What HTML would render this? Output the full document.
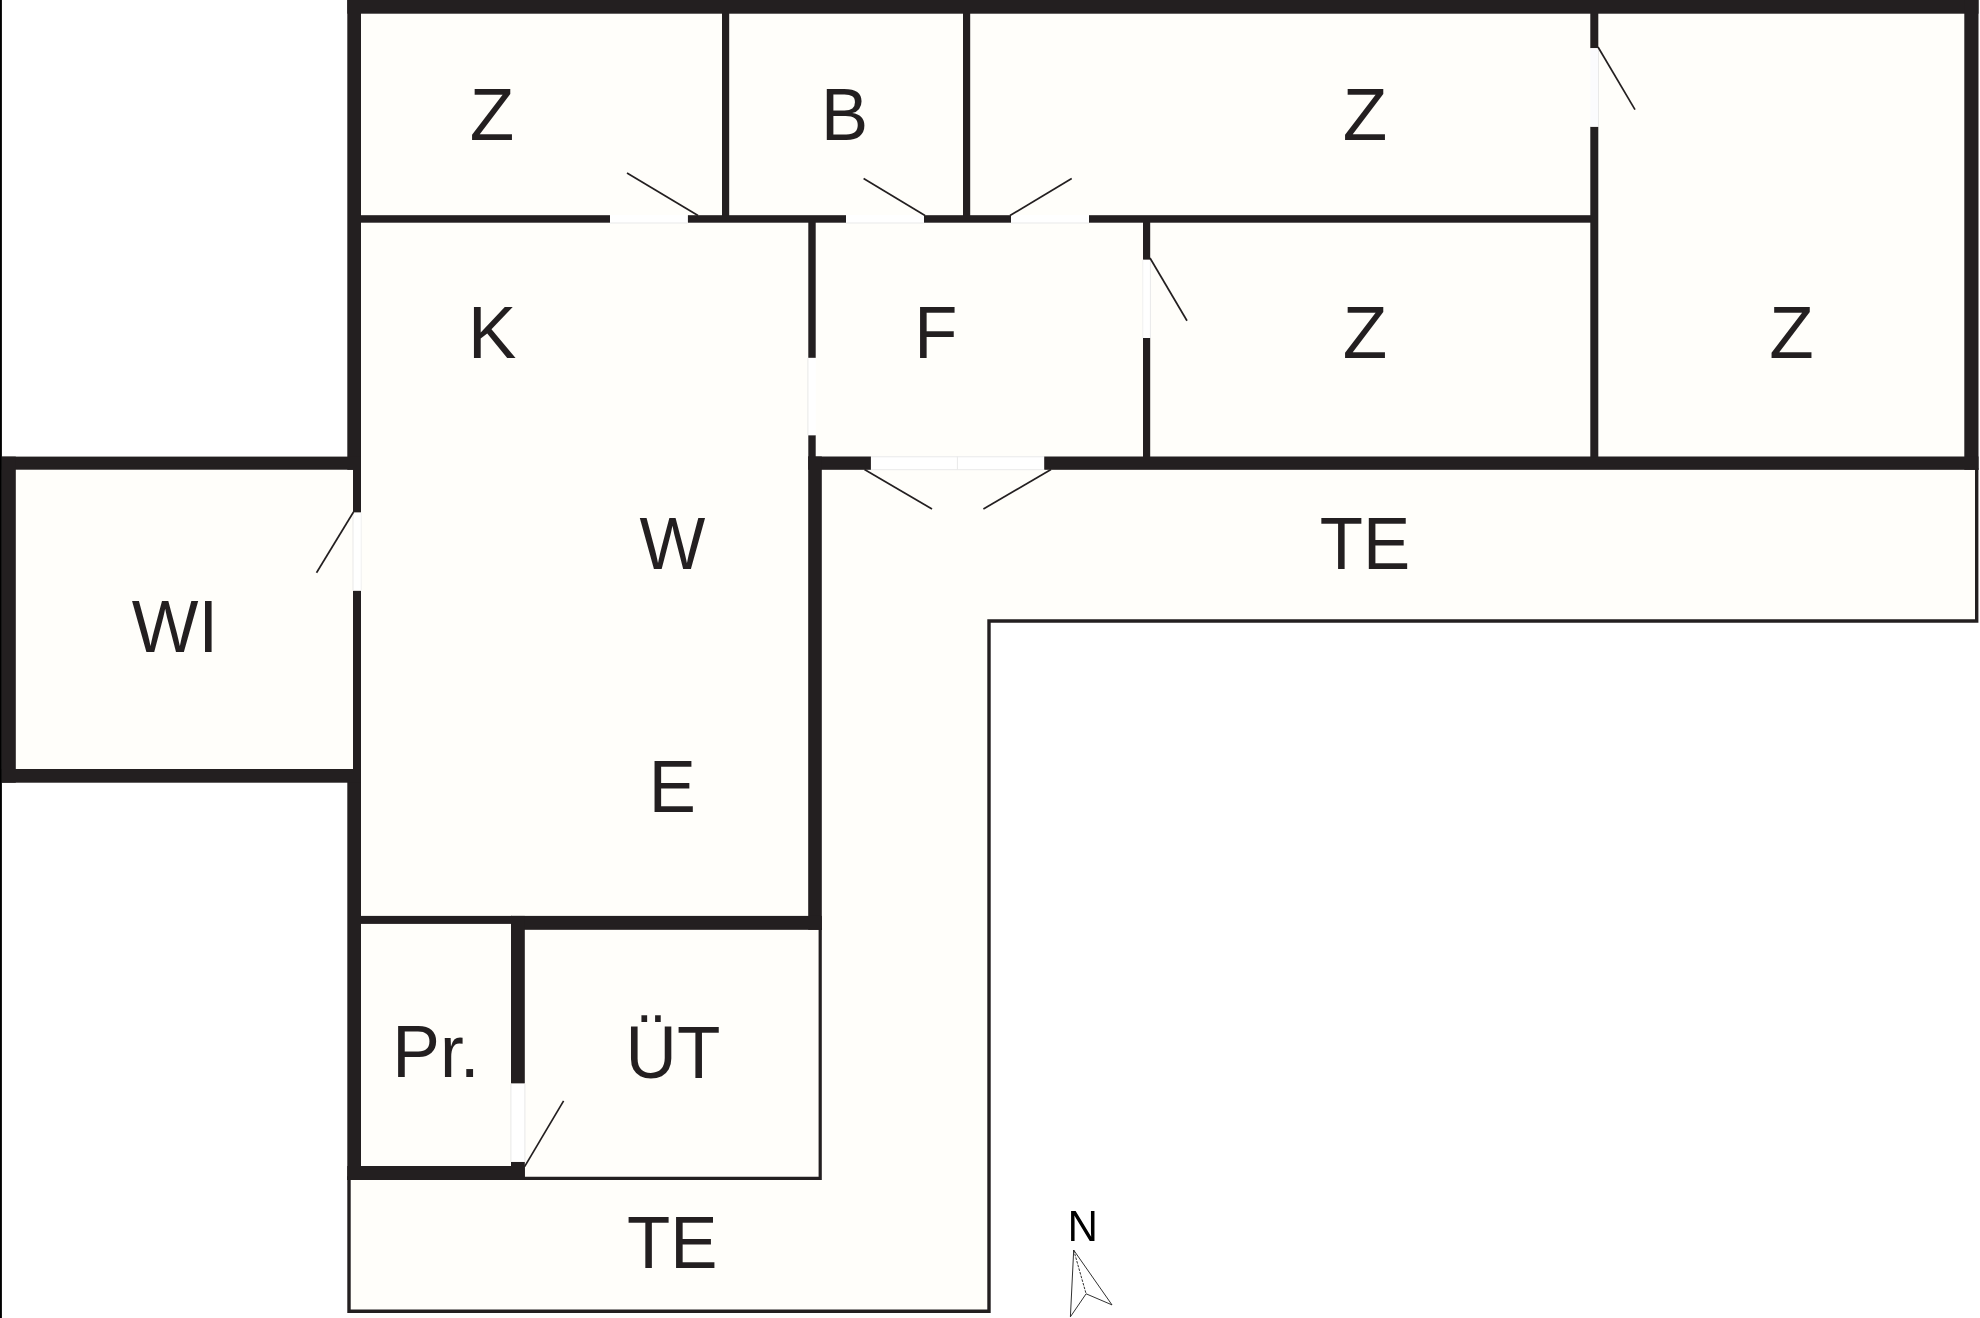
<!DOCTYPE html>
<html lang="de">
<head>
<meta charset="utf-8">
<title>Grundriss</title>
<style>
  html, body { margin: 0; padding: 0; background: #ffffff; }
  body { width: 1980px; height: 1318px; overflow: hidden; position: relative; }
  svg { position: absolute; left: 0; top: 0; display: block; }
  .fill { fill: #fffefa; }
  .wall { fill: #231f20; }
  .gap  { fill: #ffffff; }
  .gapl { stroke: #e9e9e9; stroke-width: 1; fill: none; }
  .thin { stroke: #231f20; stroke-width: 3.4; fill: none; stroke-linecap: square; stroke-linejoin: miter; }
  .leaf { stroke: #231f20; stroke-width: 1.7; fill: none; stroke-linecap: butt; }
  .lbl  { font-family: "Liberation Sans", sans-serif; font-size: 74px; fill: #231f20; }
  .north { font-family: "Liberation Sans", sans-serif; font-size: 43.6px; fill: #000000; opacity: 0.995; }
  .cmp  { stroke: #1a1a1a; stroke-width: 0.9; fill: none; stroke-linejoin: round; }
</style>
</head>
<body>
<svg width="1980" height="1318" viewBox="0 0 1980 1318">
  <!-- page background -->
  <rect x="0" y="0" width="1980" height="1318" fill="#ffffff"/>

  <!-- ===== room / terrace fills ===== -->
  <g class="fill">
    <!-- main upper block -->
    <rect x="355" y="8" width="1616" height="455"/>
    <!-- K / W / E -->
    <rect x="355" y="215" width="460" height="708"/>
    <!-- WI -->
    <rect x="8" y="463" width="350" height="313"/>
    <!-- Pr. -->
    <rect x="355" y="920" width="162" height="252"/>
    <!-- ÜT -->
    <rect x="518" y="923" width="302" height="255"/>
    <!-- terrace (L + bottom strip) -->
    <polygon points="815,463 1976.7,463 1976.7,621 989,621 989,1311.3 349,1311.3 349,1172 815,1172"/>
  </g>

  <!-- ===== thin terrace / ÜT outlines ===== -->
  <g class="thin">
    <polyline points="1976.7,470 1976.7,621 989,621 989,1311.3 349,1311.3 349,1178"/>
    <polyline points="820.2,930 820.2,1178.4 524,1178.4" stroke-width="3.2"/>
  </g>

  <!-- ===== outer walls ===== -->
  <g class="wall">
    <!-- top -->
    <rect x="347.3" y="0" width="1631.2" height="13.7"/>
    <!-- right -->
    <rect x="1964.3" y="0" width="14.2" height="469.8"/>
    <!-- left upper -->
    <rect x="347.3" y="0" width="13.7" height="469.8"/>
    <!-- left lower -->
    <rect x="347.3" y="769" width="13.7" height="411"/>
    <!-- bottom of upper block (split by double door) -->
    <rect x="808.2" y="456.5" width="62.7" height="13.3"/>
    <rect x="1044" y="456.5" width="934.5" height="13.3"/>
    <!-- right wall of W/E -->
    <rect x="808.2" y="456.5" width="13.6" height="473.3"/>
    <!-- bottom wall of E (thick part) -->
    <rect x="511" y="915.9" width="310.8" height="13.9"/>
    <!-- Pr | ÜT -->
    <rect x="511" y="915.9" width="13.8" height="167.7"/>
    <rect x="511" y="1161.8" width="13.8" height="18.2"/>
    <!-- Pr bottom -->
    <rect x="347.3" y="1166" width="177.5" height="14"/>
    <!-- WI box -->
    <rect x="1.8" y="456.6" width="359.2" height="13.1"/>
    <rect x="1.8" y="456.6" width="14" height="326.1"/>
    <rect x="1.8" y="769" width="359.2" height="13.7"/>
  </g>

  <!-- ===== inner walls ===== -->
  <g class="wall">
    <!-- WI | W (thin) -->
    <rect x="353" y="469" width="8" height="43.6"/>
    <rect x="353" y="590.6" width="8" height="179"/>
    <!-- horizontal wall y=215..222.7 -->
    <rect x="360" y="215.2" width="250" height="7.5"/>
    <rect x="687.7" y="215.2" width="158.3" height="7.5"/>
    <rect x="924" y="215.2" width="87" height="7.5"/>
    <rect x="1089" y="215.2" width="502" height="7.5"/>
    <!-- Z | B -->
    <rect x="722" y="13" width="7.2" height="203"/>
    <!-- B | Z -->
    <rect x="963" y="13" width="7.2" height="203"/>
    <!-- K | F -->
    <rect x="808.3" y="222" width="7.4" height="135.9"/>
    <rect x="808.3" y="435.2" width="7.4" height="22"/>
    <!-- F | Z -->
    <rect x="1143" y="222" width="7.2" height="37.8"/>
    <rect x="1143" y="338" width="7.2" height="119"/>
    <!-- Z | Z (right) -->
    <rect x="1590.3" y="13" width="8" height="35.2"/>
    <rect x="1590.3" y="126.7" width="8" height="331"/>
    <!-- Pr top (thin) -->
    <rect x="360" y="915.9" width="152" height="8"/>
  </g>

  <!-- ===== door openings (white) ===== -->
  <g class="gap">
    <rect x="610" y="215" width="77.7" height="8"/>
    <rect x="846" y="215" width="78" height="8"/>
    <rect x="1011" y="215" width="78" height="8"/>
    <rect x="808.3" y="357.9" width="7.4" height="77.3"/>
    <rect x="1143" y="259.8" width="7.2" height="78.2"/>
    <rect x="1590.3" y="48.2" width="8" height="78.5" fill="#fbfbfd"/>
    <rect x="353" y="512.6" width="8" height="78"/>
    <rect x="511" y="1083.6" width="13.8" height="78.2"/>
    <rect x="871" y="456.5" width="173.2" height="13.4"/>
  </g>
  <g class="gapl">
    <line x1="610" y1="223" x2="687.7" y2="223"/>
    <line x1="846" y1="223" x2="924" y2="223"/>
    <line x1="1011" y1="223" x2="1089" y2="223"/>
    <line x1="807.9" y1="357.9" x2="807.9" y2="435.2"/>
    <line x1="1150.4" y1="259.8" x2="1150.4" y2="338"/>
    <line x1="353" y1="512.6" x2="353" y2="590.6"/>
    <line x1="510.9" y1="1083.6" x2="510.9" y2="1161.8"/>
    <line x1="524.9" y1="1083.6" x2="524.9" y2="1161.8"/>
    <line x1="871" y1="456.8" x2="1044.2" y2="456.8"/>
    <line x1="871" y1="469.7" x2="1044.2" y2="469.7"/>
    <line x1="957.4" y1="456.5" x2="957.4" y2="469.9"/>
    <line x1="1598.5" y1="48.2" x2="1598.5" y2="126.7"/>
    <line x1="1142.8" y1="259.8" x2="1142.8" y2="338" stroke="#f0f0f0"/>
    <line x1="361.2" y1="512.6" x2="361.2" y2="590.6" stroke="#f0f0f0"/>
  </g>

  <!-- ===== door leaves ===== -->
  <g class="leaf">
    <line x1="627" y1="173" x2="698" y2="215.5"/>
    <line x1="863.6" y1="178.5" x2="925" y2="215.5"/>
    <line x1="1071.7" y1="178.5" x2="1010" y2="215.5"/>
    <line x1="1598" y1="47" x2="1635" y2="109.6"/>
    <line x1="1150" y1="258" x2="1187" y2="320.7"/>
    <line x1="353.5" y1="512" x2="316.5" y2="572.7"/>
    <line x1="524.6" y1="1166.6" x2="563.6" y2="1100.9"/>
    <line x1="864.5" y1="469.5" x2="932" y2="509"/>
    <line x1="1051" y1="469.5" x2="983.4" y2="509"/>
  </g>

  <!-- ===== labels ===== -->
  <g class="lbl">
    <text transform="translate(469.7,140.2) scale(0.984,1)">Z</text>
    <text transform="translate(820.9,140.2) scale(0.955,1)">B</text>
    <text transform="translate(1342.7,140.2) scale(0.984,1)">Z</text>
    <text transform="translate(468.1,358.2) scale(0.98,1)">K</text>
    <text transform="translate(914.3,358) scale(0.955,1)">F</text>
    <text transform="translate(1342.7,358.4) scale(0.984,1)">Z</text>
    <text transform="translate(1769.3,358.1) scale(0.984,1)">Z</text>
    <text transform="translate(639.4,569.3) scale(0.942,1)">W</text>
    <text transform="translate(1319.7,569) scale(0.957,1)">TE</text>
    <text transform="translate(131.8,652.1) scale(0.955,1)">WI</text>
    <text transform="translate(648.8,811.9) scale(0.955,1)">E</text>
    <text transform="translate(392.3,1076.6) scale(0.965,1)">Pr.</text>
    <text transform="translate(625.6,1077.8) scale(0.96,1)">ÜT</text>
    <text transform="translate(626.9,1268.2) scale(0.957,1)">TE</text>
  </g>
  <!-- "N" drawn as outline (avoids sub-pixel colour fringing) -->
  <path fill="#000000" transform="translate(1067.65,1241) scale(0.020438,-0.021289)" d="M1082 0L328 1200L333 1103L338 936V0H168V1409H390L1152 201Q1140 397 1140 485V1409H1312V0Z"/>

  <!-- ===== north arrow ===== -->
  <g class="cmp">
    <polygon points="1073.7,1250.1 1112,1304.9 1086.1,1293.8 1070.4,1316.8"/>
    <line x1="1073.7" y1="1250.1" x2="1086.1" y2="1293.8" stroke-dasharray="2.6 1.2"/>
  </g>

  <!-- left page edge line -->
  <rect x="0" y="0" width="1.9" height="1318" fill="#000000"/>
</svg>
</body>
</html>
